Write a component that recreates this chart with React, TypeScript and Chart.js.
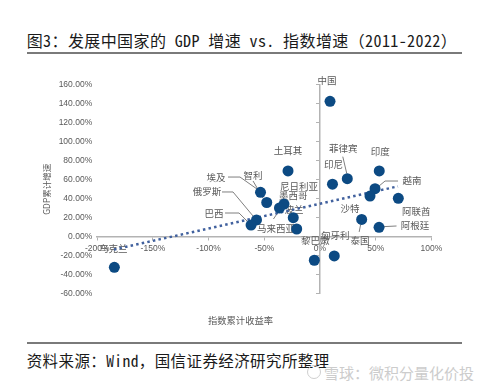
import React, { useEffect, useRef } from "react";
import { Chart, registerables } from "chart.js";

Chart.register(...registerables);

// ---- data ----
const countries = [
  "乌克兰", "中国", "土耳其", "印尼", "菲律宾", "印度", "越南", "沙特", "阿联酋", "阿根廷",
  "泰国", "匈牙利", "黎巴嫩", "埃及", "智利", "俄罗斯", "巴西", "尼日利亚", "马来西亚", "墨西哥", "波兰",
];
const indexReturn = [
  -184.6, 9.0, -28.7, 11.2, 24.5, 53.2, 49.4, 44.9, 70.3, 53.0,
  37.4, 12.8, -5.1, -53.4, -47.8, -57.0, -61.9, -32.3, -36.4, -24.0, -20.9,
];
const gdpGrowth = [
  -32.2, 142.5, 69.2, 55.3, 61.1, 69.2, 50.5, 42.8, 40.4, 9.9,
  18.2, -20.3, -24.8, 46.7, 36.0, 17.6, 12.3, 34.4, 30.2, 20.0, 8.1,
];
const trendX = [-185, 70];
const trendY = [-13.5, 53];
const xTickValues = [-200, -150, -100, -50, 0, 50, 100];
const yTickValues = [-60, -40, -20, 0, 20, 40, 60, 80, 100, 120, 140, 160];

// ---- label layout (pixel offsets from each point) ----
const labelOffsets: [number, number][] = [
  [-1, -19], [-3, -21], [0, -21], [1, -20], [-4, -30], [1, -20], [37, -8], [-20, 12], [18, 13], [36, -2],
  [-1.7, 20.7], [1, -21], [1, -20], [-44.5, -15.3], [-13.7, -27.5], [-49.5, -28.3], [-37, -11.5], [15, -18],
  [-3.5, 20.5], [0, -22.7], [-2.7, -20],
];
const leaderLines: [number, number][][] = [
  [], [], [], [], [[-4.5, -22], [-0.5, -5]], [], [[23, -7.7], [10, -7.7], [2, -1]], [], [], [[17.5, -1.3], [5, -0.7]],
  [[-1, 5], [-2.5, 12.5]], [], [], [[-32.5, -15.3], [-20.5, -15.3], [-3.5, -3.3]], [[-13.7, -21.5], [-3.7, -4.5]],
  [[-34.5, -28], [-23.5, -28], [-3.5, -4]], [[-26, -12], [-12, -12], [-4, -4]], [], [[-6, 11], [-0.5, 3]], [], [],
];

const CJK = '"Noto Sans CJK SC"';
const LATIN = '"Liberation Sans"';
const GRAY_TEXT = "#595959";
const AXIS = "#b3b3b3";

const labelPlugin = {
  id: "pointLabels",
  beforeDatasetsDraw(chart: any) {
    const meta = chart.getDatasetMeta(0);
    const ctx = chart.ctx;
    ctx.save();
    ctx.font = `9.5px ${CJK}`;
    ctx.fillStyle = GRAY_TEXT;
    ctx.textAlign = "center";
    ctx.textBaseline = "middle";
    ctx.strokeStyle = "#7f7f7f";
    ctx.lineWidth = 1;
    meta.data.forEach((pt: any, i: number) => {
      const [dx, dy] = labelOffsets[i];
      ctx.fillText(countries[i], pt.x + dx, pt.y + dy);
      const ln = leaderLines[i];
      if (ln.length) {
        ctx.beginPath();
        ln.forEach(([lx, ly], k) => {
          if (k === 0) ctx.moveTo(pt.x + lx, pt.y + ly);
          else ctx.lineTo(pt.x + lx, pt.y + ly);
        });
        ctx.stroke();
      }
    });
    ctx.restore();
  },
  afterDraw(chart: any) {
    const ctx = chart.ctx;
    ctx.save();
    ctx.font = `9.3px ${CJK}`;
    ctx.fillStyle = GRAY_TEXT;
    ctx.textAlign = "center";
    ctx.textBaseline = "middle";
    ctx.fillText("指数累计收益率", 240.5, chart.chartArea.bottom + 27);
    ctx.restore();
  },
};

function ScatterChart() {
  const ref = useRef<HTMLCanvasElement | null>(null);
  useEffect(() => {
    if (!ref.current) return;
    const points = indexReturn.map((x, i) => ({ x, y: gdpGrowth[i] }));
    const trend = trendX.map((x, i) => ({ x, y: trendY[i] }));
    const chart = new Chart(ref.current, {
      type: "scatter",
      data: {
        datasets: [
          {
            data: points,
            backgroundColor: "#0c4a83",
            borderColor: "#0c4a83",
            borderWidth: 0,
            pointRadius: 5.5,
          },
          {
            type: "line",
            data: trend,
            borderColor: "#41619e",
            borderWidth: 2.5,
            borderDash: [2.5, 3.2],
            pointRadius: 0,
            fill: false,
          } as any,
        ],
      },
      options: {
        animation: false,
        responsive: false,
        events: [],
        layout: { padding: { left: 0, top: 24.7, right: 48.6, bottom: 46.3 } },
        plugins: { legend: { display: false }, tooltip: { enabled: false } },
        scales: {
          x: {
            type: "linear",
            position: { y: 0 } as any,
            min: -200,
            max: 100,
            afterBuildTicks: (s: any) => { s.ticks = xTickValues.map((v) => ({ value: v })); },
            ticks: {
              callback: (v: any) => `${v}%`,
              font: { family: LATIN, size: 8.5 },
              color: GRAY_TEXT,
              padding: 4,
              maxRotation: 0,
              autoSkip: false,
            },
            grid: { drawOnChartArea: false, drawTicks: true, tickLength: 3, color: AXIS, lineWidth: 1 },
            border: { display: true, color: AXIS, width: 1.5 },
          },
          y: {
            type: "linear",
            position: "left",
            min: -60,
            max: 160,
            afterBuildTicks: (s: any) => { s.ticks = yTickValues.map((v) => ({ value: v })); },
            afterFit: (s: any) => { s.width = 97.2; },
            ticks: {
              callback: (v: any) => `${Number(v).toFixed(2)}%`,
              font: { family: LATIN, size: 8.5 },
              color: GRAY_TEXT,
              padding: 5,
            },
            grid: { display: false, drawTicks: false },
            border: { display: false },
            title: {
              display: true,
              text: "GDP累计增速",
              font: { family: CJK, size: 8.5 },
              color: GRAY_TEXT,
              padding: { top: 41.6, bottom: 0 },
            },
          },
          y2: {
            type: "linear",
            axis: "y",
            position: { x: 0 } as any,
            min: -60,
            max: 160,
            afterBuildTicks: (s: any) => { s.ticks = yTickValues.map((v) => ({ value: v })); },
            ticks: { display: false },
            grid: { drawOnChartArea: false, drawTicks: true, tickLength: 3, color: AXIS, lineWidth: 1 },
            border: { display: true, color: AXIS, width: 1.5 },
          } as any,
        },
      },
      plugins: [labelPlugin],
    });
    return () => chart.destroy();
  }, []);
  return (
    <canvas
      ref={ref}
      width={480}
      height={280}
      style={{ position: "absolute", left: 0, top: 60, width: 480, height: 280, display: "block" }}
    />
  );
}

export default function App() {
  const ruleStyle: React.CSSProperties = {
    position: "absolute",
    left: 26.7,
    width: 435,
    height: 0,
    borderTop: "2px solid #7a7a7a",
  };
  return (
    <div
      style={{
        position: "absolute",
        left: 0,
        top: 0,
        width: 480,
        height: 388,
        background: "#fff",
        overflow: "hidden",
        fontFamily: '"Noto Sans Mono CJK SC", "Noto Sans CJK SC", sans-serif',
        color: "#1a1a1a",
      }}
    >
      <div
        style={{
          position: "absolute",
          left: 26.7,
          top: 31.5,
          fontSize: 16,
          lineHeight: "16px",
          letterSpacing: "0.4px",
          whiteSpace: "pre",
        }}
      >
        图3：发展中国家的 GDP 增速 vs. 指数增速（2011-2022）
      </div>
      <div style={{ ...ruleStyle, top: 52 }} />
      <ScatterChart />
      <div style={{ ...ruleStyle, top: 341.7 }} />
      <div
        style={{
          position: "absolute",
          left: 26.7,
          top: 353.2,
          fontSize: 15.5,
          lineHeight: "15.5px",
          letterSpacing: "0.4px",
          whiteSpace: "pre",
        }}
      >
        资料来源：Wind，国信证券经济研究所整理
      </div>
      <div
        style={{
          position: "absolute",
          left: 307,
          top: 365,
          width: 12,
          height: 12,
          borderRadius: "50%",
          border: "1.5px solid #cfcfcf",
        }}
      />
      <div
        style={{
          position: "absolute",
          left: 324,
          top: 365,
          fontSize: 15,
          lineHeight: "15px",
          color: "#cccccc",
          whiteSpace: "pre",
          fontFamily: '"Noto Sans CJK SC", sans-serif',
        }}
      >
        雪球：微积分量化价投
      </div>
    </div>
  );
}
